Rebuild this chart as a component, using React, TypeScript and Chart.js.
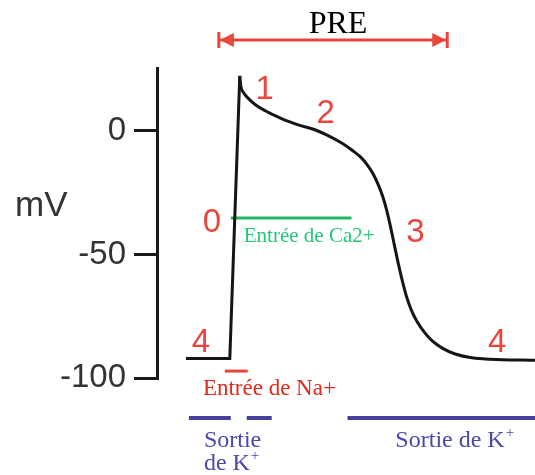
import React, { useEffect, useRef } from "react";
import { Chart, registerables } from "chart.js";

Chart.register(...registerables);

// ---- data (time in ms-like units, membrane potential in mV) ----
const yTicks = [0, -50, -100];
const yMin = -100;
const yMax = 25.5;
const tMin = 0;
const tMax = 379;

// phase 4 (rest) + phase 0 (upstroke)
const upstrokeT = [29, 73, 83];
const upstrokeMv = [-92.1, -92.1, 22.3];

// phases 1,2,3,4 (repolarisation)
const repolT = [83, 84, 87, 92, 99, 109, 119, 129, 144, 159, 174, 186, 196, 204, 211, 217, 222, 226, 230, 234, 238, 242, 246, 250, 255, 261, 268, 276, 286, 299, 314, 334, 379];
const repolMv = [22.3, 18.2, 15.4, 13.0, 10.5, 8.1, 6.1, 4.3, 2.2, 0.4, -2.4, -5.1, -7.9, -10.5, -13.8, -17.6, -21.9, -26.1, -31.6, -38.5, -46.2, -53.8, -60.7, -66.8, -72.5, -77.3, -81.4, -85.0, -87.9, -90.3, -91.7, -92.4, -92.8];

// ionic currents
const caT = [74, 195];
const caMv = -35.2;
const naT = [68, 91];
const naMv = -97.2;
const kStartT = [32, 90, 191];
const kEndT = [74, 115, 379];
const kMv = -116.2;

// refractory period arrow
const preT = [62, 291];
const preMv = 36.8;

// phase numbers
const phaseLabels = ["0", "1", "2", "3", "4", "4"];
const phaseLabelT = [55, 108, 169, 259, 44, 341];
const phaseLabelMv = [-40.9, 13.0, 3.2, -44.9, -89.5, -89.5];

const SANS = '"Liberation Sans", Arial, sans-serif';
const SERIF = '"Liberation Serif", "Times New Roman", serif';
const RED = "#e8463c";
const GREEN_LINE = "#1fb864";
const GREEN_TEXT = "#22c77a";
const BLUE = "#45409e";
const BLUE_TEXT = "#4a48a8";

const pts = (xs: number[], ys: number[] | number) =>
  xs.map((x, i) => ({ x, y: Array.isArray(ys) ? ys[i] : ys }));

const annotations = {
  id: "annotations",
  afterDatasetsDraw(chart: any) {
    const { ctx } = chart;
    const xs = chart.scales.x;
    const ys = chart.scales.y;
    const px = (t: number) => xs.getPixelForValue(t);
    const py = (v: number) => ys.getPixelForValue(v);
    ctx.save();

    // PRE arrow heads and end bars
    const yA = py(preMv);
    const xL = px(preT[0]);
    const xR = px(preT[1]);
    ctx.fillStyle = RED;
    ctx.strokeStyle = RED;
    ctx.lineWidth = 3;
    ctx.beginPath();
    ctx.moveTo(xL, yA - 8);
    ctx.lineTo(xL, yA + 8);
    ctx.moveTo(xR, yA - 8);
    ctx.lineTo(xR, yA + 8);
    ctx.stroke();
    ctx.beginPath();
    ctx.moveTo(xL + 1, yA);
    ctx.lineTo(xL + 15, yA - 7);
    ctx.lineTo(xL + 15, yA + 7);
    ctx.closePath();
    ctx.fill();
    ctx.beginPath();
    ctx.moveTo(xR - 1, yA);
    ctx.lineTo(xR - 15, yA - 7);
    ctx.lineTo(xR - 15, yA + 7);
    ctx.closePath();
    ctx.fill();

    // PRE text
    ctx.fillStyle = "#000";
    ctx.font = `32px ${SERIF}`;
    ctx.textAlign = "center";
    ctx.textBaseline = "alphabetic";
    ctx.fillText("PRE", px((preT[0] + preT[1]) / 2 + 5), py(39.7));

    // axis title
    ctx.fillStyle = "#333";
    ctx.font = `35px ${SANS}`;
    ctx.textAlign = "left";
    ctx.fillText("mV", 15, py(-34.4));

    // phase numbers
    ctx.fillStyle = RED;
    ctx.font = `33px ${SANS}`;
    ctx.textAlign = "center";
    phaseLabels.forEach((s, i) => {
      ctx.fillText(s, px(phaseLabelT[i]), py(phaseLabelMv[i]));
    });

    // ion labels
    ctx.textAlign = "left";
    ctx.font = `21px ${SERIF}`;
    ctx.fillStyle = GREEN_TEXT;
    ctx.fillText("Entrée de Ca2+", px(87), py(-44.9));

    ctx.font = `23px ${SERIF}`;
    ctx.fillStyle = "#e02a1c";
    ctx.fillText("Entrée de Na+", px(46), py(-106.9));

    const supText = (main: string, x: number, y: number) => {
      ctx.font = `24px ${SERIF}`;
      ctx.fillText(main, x, y);
      const w = ctx.measureText(main).width;
      ctx.font = `15px ${SERIF}`;
      ctx.fillText("+", x + w + 1, y - 10);
    };
    ctx.fillStyle = BLUE_TEXT;
    ctx.font = `24px ${SERIF}`;
    ctx.fillText("Sortie", px(47), py(-127.9));
    supText("de K", px(47), py(-137.2));
    supText("Sortie de K", px(239), py(-127.9));

    ctx.restore();
  },
};

export default function App() {
  const ref = useRef<HTMLCanvasElement>(null);

  useEffect(() => {
    document.body.style.margin = "0";
    const line = (data: any[], color: string, width: number, extra: any = {}) => ({
      data,
      borderColor: color,
      backgroundColor: color,
      borderWidth: width,
      pointRadius: 0,
      fill: false,
      tension: 0,
      borderCapStyle: "butt",
      ...extra,
    });
    const datasets: any[] = [
      line(pts(upstrokeT, upstrokeMv), "#151515", 3, { borderJoinStyle: "miter" }),
      line(pts(repolT, repolMv), "#151515", 3, { cubicInterpolationMode: "monotone" }),
      line(pts(caT, caMv), GREEN_LINE, 3),
      line(pts(naT, naMv), RED, 3),
      ...kStartT.map((s, i) => line(pts([s, kEndT[i]], kMv), BLUE, 4, { clip: false })),
      line(pts(preT, preMv), RED, 3, { clip: false }),
    ];
    const chart = new Chart(ref.current as HTMLCanvasElement, {
      type: "line",
      data: { datasets },
      options: {
        animation: false,
        responsive: false,
        devicePixelRatio: 1,
        layout: { padding: { top: 68, bottom: 97, left: 0, right: 0 } },
        plugins: { legend: { display: false }, tooltip: { enabled: false } },
        scales: {
          x: { type: "linear", min: tMin, max: tMax, display: false },
          y: {
            type: "linear",
            min: yMin,
            max: yMax,
            afterBuildTicks: (s: any) => {
              s.ticks = yTicks.map((v) => ({ value: v }));
            },
            afterFit: (s: any) => {
              s.width = 157;
            },
            border: { display: true, color: "#1a1a1a", width: 3 },
            grid: {
              drawOnChartArea: false,
              drawTicks: true,
              tickLength: 23,
              lineWidth: 3,
              color: "#1a1a1a",
            },
            ticks: {
              padding: 8,
              color: "#333",
              font: { family: SANS, size: 33 },
              callback: (v: any) => String(v),
            },
          },
        },
      },
      plugins: [annotations],
    });
    return () => chart.destroy();
  }, []);

  return (
    <div style={{ position: "fixed", left: 0, top: 0, width: 535, height: 475, background: "#fff" }}>
      <canvas ref={ref} width={535} height={475} style={{ display: "block" }} />
    </div>
  );
}
